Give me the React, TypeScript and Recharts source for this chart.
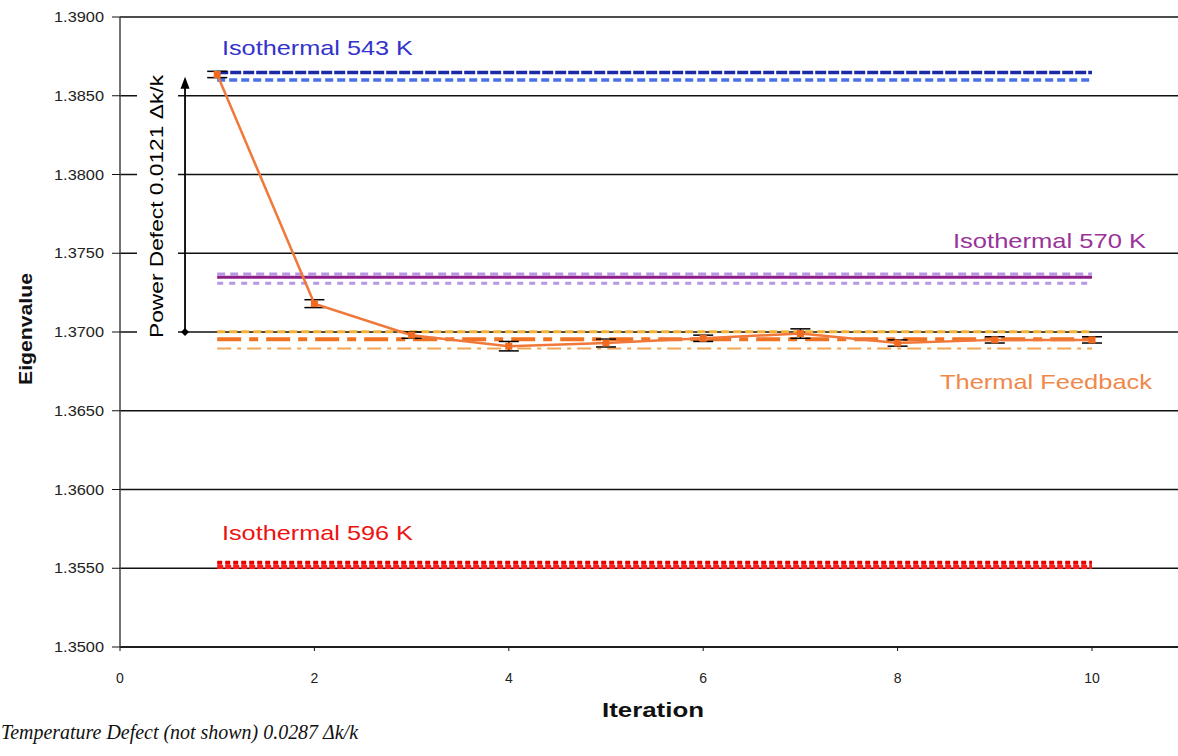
import React from 'react';
import {
  LineChart,
  Line,
  XAxis,
  YAxis,
  CartesianGrid,
  ErrorBar,
  ReferenceDot,
  ReferenceLine,
} from 'recharts';

// ---------- data ----------
const iterations = [1, 2, 3, 4, 5, 6, 7, 8, 9, 10];
const thermalFeedback = [1.38635, 1.3718, 1.3698, 1.3691, 1.3693, 1.3696, 1.3699, 1.3693, 1.3695, 1.3695];
const thermalFeedbackErr = [0.0002, 0.00025, 0.0002, 0.0003, 0.00025, 0.0002, 0.0003, 0.0002, 0.0002, 0.0002];

const iso543Upper = [1.38648, 1.38648, 1.38648, 1.38648, 1.38648, 1.38648, 1.38648, 1.38648, 1.38648, 1.38648];
const iso543Lower = [1.386, 1.386, 1.386, 1.386, 1.386, 1.386, 1.386, 1.386, 1.386, 1.386];
const iso570Upper = [1.37368, 1.37368, 1.37368, 1.37368, 1.37368, 1.37368, 1.37368, 1.37368, 1.37368, 1.37368];
const iso570Mid = [1.37347, 1.37347, 1.37347, 1.37347, 1.37347, 1.37347, 1.37347, 1.37347, 1.37347, 1.37347];
const iso570Lower = [1.37309, 1.37309, 1.37309, 1.37309, 1.37309, 1.37309, 1.37309, 1.37309, 1.37309, 1.37309];
const tfUpper = [1.37002, 1.37002, 1.37002, 1.37002, 1.37002, 1.37002, 1.37002, 1.37002, 1.37002, 1.37002];
const tfMid = [1.36954, 1.36954, 1.36954, 1.36954, 1.36954, 1.36954, 1.36954, 1.36954, 1.36954, 1.36954];
const tfLower = [1.36896, 1.36896, 1.36896, 1.36896, 1.36896, 1.36896, 1.36896, 1.36896, 1.36896, 1.36896];
const iso596Upper = [1.35535, 1.35535, 1.35535, 1.35535, 1.35535, 1.35535, 1.35535, 1.35535, 1.35535, 1.35535];
const iso596Lower = [1.35508, 1.35508, 1.35508, 1.35508, 1.35508, 1.35508, 1.35508, 1.35508, 1.35508, 1.35508];

const xTicks = [0, 2, 4, 6, 8, 10];
const yTicks = [1.35, 1.355, 1.36, 1.365, 1.37, 1.375, 1.38, 1.385, 1.39];

const powerDefectTop = 1.3862;
const powerDefectBottom = 1.37;

const rows = iterations.map((it, i) => ({
  it,
  tf: thermalFeedback[i],
  tfErr: thermalFeedbackErr[i],
  iso543Upper: iso543Upper[i],
  iso543Lower: iso543Lower[i],
  iso570Upper: iso570Upper[i],
  iso570Mid: iso570Mid[i],
  iso570Lower: iso570Lower[i],
  tfUpper: tfUpper[i],
  tfMid: tfMid[i],
  tfLower: tfLower[i],
  iso596Upper: iso596Upper[i],
  iso596Lower: iso596Lower[i],
}));

const FONT = '"Liberation Sans", Arial, sans-serif';

const YTick = (props: any) => {
  const { x, y, payload } = props;
  return (
    <text x={x - 51} y={y + 5} textAnchor="start" fontFamily={FONT} fontSize={14} fill="#222"
      textLength={50} lengthAdjust="spacingAndGlyphs">
      {Number(payload.value).toFixed(4)}
    </text>
  );
};

const XTick = (props: any) => {
  const { x, y, payload } = props;
  return (
    <text x={x} y={y + 30} textAnchor="middle" fontFamily={FONT} fontSize={14} fill="#222">
      {payload.value}
    </text>
  );
};

const SquareDot = (props: any) => {
  const { cx, cy } = props;
  if (cx == null || cy == null) return null;
  return <rect x={cx - 3.5} y={cy - 3.5} width={7} height={7} fill="#f06a20" />;
};

const makeLabel = (text: string, color: string, len: number) => (p: any) => (
  <text x={p.cx} y={p.cy} fontFamily={FONT} fontSize={21} fill={color}
    textLength={len} lengthAdjust="spacingAndGlyphs">
    {text}
  </text>
);

const PowerDefectLabel = (p: any) => (
  <g>
    <rect x={p.cx - 18} y={p.cy - 134} width={41} height={272} fill="#fff" />
    <text transform={`translate(${p.cx + 8}, ${p.cy}) rotate(-90)`} x={-132} textAnchor="start"
      fontFamily={FONT} fontSize={18} fill="#000" textLength={263} lengthAdjust="spacingAndGlyphs">
      Power Defect 0.0121 Δk/k
    </text>
  </g>
);

const ArrowShape = (p: any) => {
  const x = p.x1;
  const top = Math.min(p.y1, p.y2);
  const bot = Math.max(p.y1, p.y2);
  return (
    <g>
      <line x1={x} y1={top + 6} x2={x} y2={bot} stroke="#000" strokeWidth={1.8} />
      <polygon points={`${x},${top} ${x - 4.5},${top + 12} ${x + 4.5},${top + 12}`} fill="#000" />
      <polygon points={`${x},${bot - 4} ${x + 4},${bot} ${x},${bot + 4} ${x - 4},${bot}`} fill="#000" />
    </g>
  );
};

const YTitle = (props: any) => {
  const vb = props.viewBox || { x: 0, y: 17, width: 120, height: 630 };
  const cx = vb.x + 32;
  const cy = vb.y + vb.height / 2 - 3;
  return (
    <text transform={`translate(${cx}, ${cy}) rotate(-90)`} x={-56} textAnchor="start" fontFamily={FONT}
      fontWeight="bold" fontSize={19} fill="#111" textLength={112} lengthAdjust="spacingAndGlyphs">
      Eigenvalue
    </text>
  );
};

const XTitle = (props: any) => {
  const vb = props.viewBox || { x: 120, y: 647, width: 1058, height: 60 };
  const cx = vb.x + vb.width / 2 + 4;
  return (
    <g>
      <text x={cx - 51} y={vb.y + 70} textAnchor="start" fontFamily={FONT} fontWeight="bold" fontSize={21}
        fill="#111" textLength={102} lengthAdjust="spacingAndGlyphs">
        Iteration
      </text>
      <text x={1} y={vb.y + 92} fontFamily='"Liberation Serif", "Times New Roman", serif' fontStyle="italic"
        fontSize={20} fill="#111" textLength={357} lengthAdjust="spacingAndGlyphs">
        Temperature Defect (not shown) 0.0287 Δk/k
      </text>
    </g>
  );
};

export default function App() {
  return (
    <div style={{ position: 'absolute', left: 0, top: 0, width: 1178, height: 756, background: '#fff' }}>
      <LineChart width={1178} height={756} data={rows} margin={{ top: 17, right: 0, bottom: 49, left: 0 }}>
        <CartesianGrid horizontal vertical={false} stroke="#111" strokeWidth={1.3} />
        <XAxis type="number" dataKey="it" domain={[0, 10.885]} ticks={xTicks} allowDataOverflow
          height={60} tickSize={4} tickMargin={2} tick={<XTick />} axisLine={{ stroke: '#111', strokeWidth: 1.5 }}
          tickLine={{ stroke: '#111' }} label={{ content: (p: any) => <XTitle {...p} /> }} />
        <YAxis type="number" domain={[1.35, 1.39]} ticks={yTicks} allowDataOverflow width={120}
          tickSize={8} tickMargin={7} tick={<YTick />} axisLine={{ stroke: '#444', strokeWidth: 1.5 }}
          tickLine={{ stroke: '#111' }} label={{ content: (p: any) => <YTitle {...p} /> }} />

        <ReferenceDot x={0.36} y={1.378} r={0} shape={PowerDefectLabel} ifOverflow="visible" />
        <ReferenceLine segment={[{ x: 0.669, y: powerDefectTop }, { x: 0.669, y: powerDefectBottom }]}
          shape={ArrowShape} ifOverflow="visible" />

        <Line dataKey="iso543Lower" stroke="#4a70e8" strokeWidth={3.5} strokeDasharray="8 4" dot={false} isAnimationActive={false} />
        <Line dataKey="iso543Upper" stroke="#1c2aa8" strokeWidth={3.5} strokeDasharray="11 2" dot={false} isAnimationActive={false} />

        <Line dataKey="iso570Upper" stroke="#b896e6" strokeWidth={3} strokeDasharray="8 5" dot={false} isAnimationActive={false} />
        <Line dataKey="iso570Lower" stroke="#b896e6" strokeWidth={3} strokeDasharray="6 6" dot={false} isAnimationActive={false} />
        <Line dataKey="iso570Mid" stroke="#8c1f86" strokeWidth={3} dot={false} isAnimationActive={false} />

        <Line dataKey="tfLower" stroke="#f2a553" strokeWidth={2} strokeDasharray="14 6 4 6" dot={false} isAnimationActive={false} />
        <Line dataKey="tfUpper" stroke="#f5b436" strokeWidth={3} strokeDasharray="8 4" dot={false} isAnimationActive={false} />
        <Line dataKey="tfMid" stroke="#f07323" strokeWidth={4} strokeDasharray="24 8 9 8" dot={false} isAnimationActive={false} />

        <Line dataKey="iso596Lower" stroke="#ff1a1a" strokeWidth={4} strokeDasharray="6 2" dot={false} isAnimationActive={false} />
        <Line dataKey="iso596Upper" stroke="#e80000" strokeWidth={4} strokeDasharray="5 3" dot={false} isAnimationActive={false} />

        <Line dataKey="tf" stroke="#f0783a" strokeWidth={2.5} dot={<SquareDot />} isAnimationActive={false}>
          <ErrorBar dataKey="tfErr" width={10} stroke="#000" strokeWidth={1.5} direction="y" />
        </Line>

        <ReferenceDot x={1.049} y={1.387587} r={0} shape={makeLabel('Isothermal 543 K', '#3333cc', 191)} ifOverflow="visible" />
        <ReferenceDot x={8.57} y={1.375333} r={0} shape={makeLabel('Isothermal 570 K', '#993399', 193)} ifOverflow="visible" />
        <ReferenceDot x={8.436} y={1.366381} r={0} shape={makeLabel('Thermal Feedback', '#f0884a', 212)} ifOverflow="visible" />
        <ReferenceDot x={1.049} y={1.356794} r={0} shape={makeLabel('Isothermal 596 K', '#ee1111', 191)} ifOverflow="visible" />
      </LineChart>
    </div>
  );
}
